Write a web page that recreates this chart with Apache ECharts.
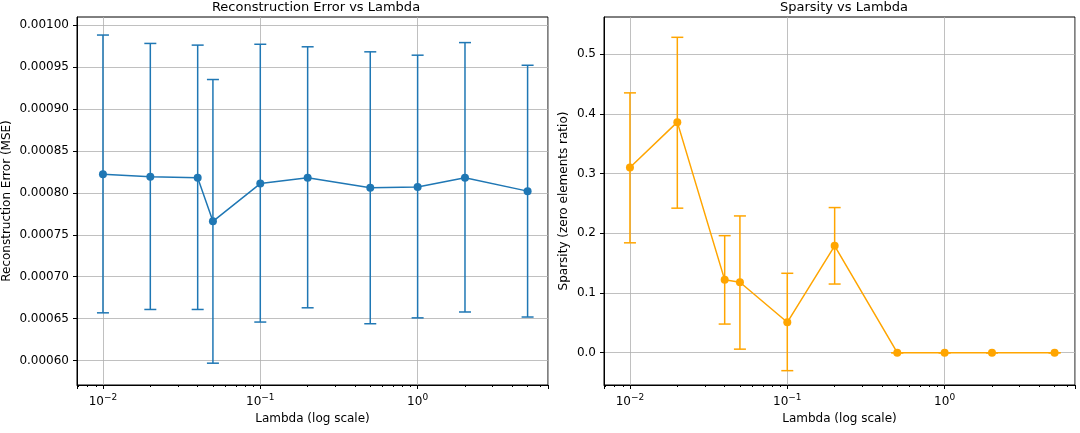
<!DOCTYPE html>
<html><head><meta charset="utf-8">
<script src="https://cdn.jsdelivr.net/npm/echarts@6/dist/echarts.min.js"></script>
<style>html,body{margin:0;background:#fff}#c{width:1080px;height:433px}</style>
</head><body><div id="c"></div>
<script>
const lambdas=[0.01,0.02,0.04,0.05,0.1,0.2,0.5,1,2,5];
const errMean=[0.000822,0.000819,0.000818,0.000766,0.000811,0.000818,0.000806,0.000807,0.000818,0.000802];
const errLow=[0.000657,0.000661,0.000661,0.000597,0.000646,0.000663,0.000644,0.000651,0.000658,0.000652];
const errHigh=[0.000988,0.000978,0.000976,0.000935,0.000977,0.000974,0.000968,0.000964,0.000979,0.000952];
const spMean=[0.31,0.386,0.122,0.118,0.051,0.179,0,0,0,0];
const spLow=[0.184,0.242,0.048,0.006,-0.03,0.115,0,0,0,0];
const spHigh=[0.435,0.528,0.196,0.229,0.133,0.243,0,0,0,0];
const leftTicks=[0.0006,0.00065,0.0007,0.00075,0.0008,0.00085,0.0009,0.00095,0.001];
const rightTicks=[0,0.1,0.2,0.3,0.4,0.5];
const blue='#1f77b4',orange='#ffa500';
const font='DejaVu Sans';
function xAxis(i){return {type:'log',gridIndex:i,logBase:10,min:0.00684,max:6.74,
 name:'Lambda (log scale)',nameLocation:'middle',nameGap:26,nameTextStyle:{color:'#000',fontSize:12,fontFamily:font},
 axisLine:{show:true,onZero:false,lineStyle:{color:'#000'}},axisTick:{show:true,length:4,lineStyle:{color:'#000'}},
 minorTick:{show:true,splitNumber:9,length:2,lineStyle:{color:'#000'}},
 splitLine:{show:true,lineStyle:{color:'#b0b0b0',width:0.8}},
 axisLabel:{color:'#000',fontSize:12,fontFamily:font,showMaxLabel:false,showMinLabel:false,formatter:v=>{const e=Math.round(Math.log10(v));if(e>0||e<-2)return '';return '10{s|'+(e<0?'−':'')+Math.abs(e)+'}';},
  rich:{s:{fontSize:9,verticalAlign:'top',padding:[0,0,8,0],fontFamily:font}}}};}
function yAxis(i,min,max,ticks,dec,name){return {type:'value',gridIndex:i,min:min,max:max,
 name:name,nameLocation:'middle',nameGap:dec==5?64:34,nameTextStyle:{color:'#000',fontSize:12,fontFamily:font},
 axisLine:{show:true,onZero:false,lineStyle:{color:'#000'}},axisTick:{show:true,length:4,lineStyle:{color:'#000'},customValues:ticks},
 splitLine:{show:true,lineStyle:{color:'#b0b0b0',width:0.8}},
 axisLabel:{color:'#000',fontSize:12,fontFamily:font,customValues:ticks,formatter:v=>v.toFixed(dec)}};}
function errSeries(i,lo,hi,color){return {type:'custom',xAxisIndex:i,yAxisIndex:i,z:1,
 data:lambdas.map((x,k)=>[x,lo[k],hi[k]]),
 renderItem:(p,api)=>{const a=api.coord([api.value(0),api.value(1)]),b=api.coord([api.value(0),api.value(2)]);const w=6;
  const st={stroke:color,lineWidth:1.5};
  return {type:'group',children:[
   {type:'line',shape:{x1:a[0],y1:a[1],x2:b[0],y2:b[1]},style:st},
   {type:'line',shape:{x1:a[0]-w,y1:a[1],x2:a[0]+w,y2:a[1]},style:st},
   {type:'line',shape:{x1:b[0]-w,y1:b[1],x2:b[0]+w,y2:b[1]},style:st}]};}};}
function lineSeries(i,m,color){return {type:'line',xAxisIndex:i,yAxisIndex:i,z:2,data:lambdas.map((x,k)=>[x,m[k]]),
 symbol:'circle',symbolSize:8,itemStyle:{color:color},lineStyle:{color:color,width:1.5}};}
const chart=echarts.init(document.getElementById('c'));
chart.setOption({animation:false,
 title:[{text:'Reconstruction Error vs Lambda',left:311,top:-4,textAlign:'center',textStyle:{fontSize:13,fontWeight:'normal',fontFamily:font,color:'#000'}},
        {text:'Sparsity vs Lambda',left:839,top:-4,textAlign:'center',textStyle:{fontSize:13,fontWeight:'normal',fontFamily:font,color:'#000'}}],
 grid:[{left:75,width:473,top:17,height:368,show:true,borderColor:'#000',borderWidth:1},
       {left:604,width:471,top:17,height:368,show:true,borderColor:'#000',borderWidth:1}],
 xAxis:[xAxis(0),xAxis(1)],
 yAxis:[yAxis(0,0.000571,0.0010095,leftTicks,5,'Reconstruction Error (MSE)'),yAxis(1,-0.054,0.562,rightTicks,1,'Sparsity (zero elements ratio)')],
 series:[errSeries(0,errLow,errHigh,blue),lineSeries(0,errMean,blue),errSeries(1,spLow,spHigh,orange),lineSeries(1,spMean,orange)]});
</script></body></html>
